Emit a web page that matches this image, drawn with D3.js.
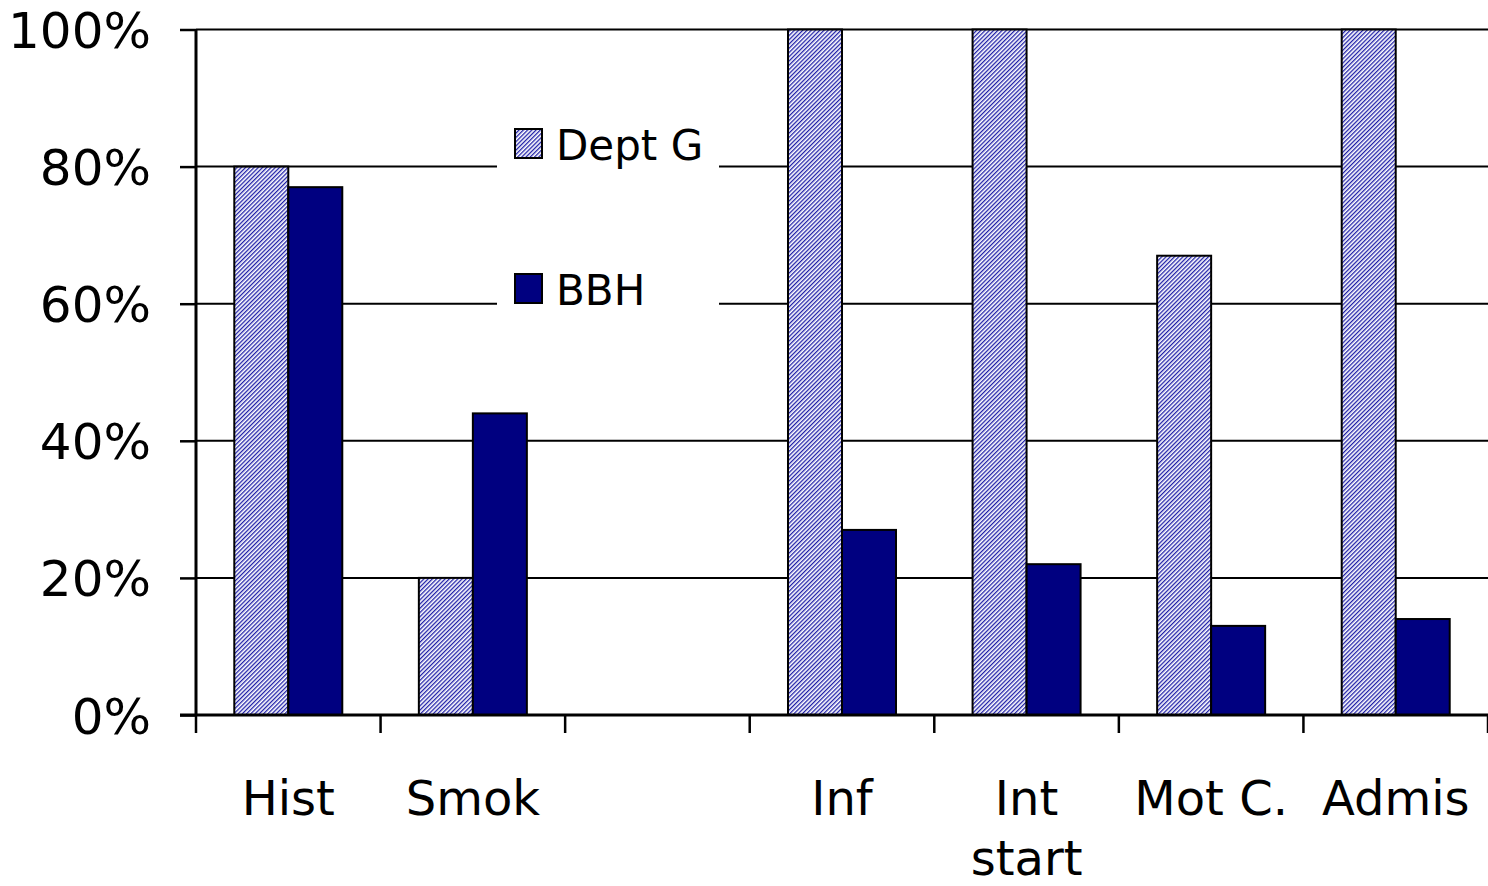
<!DOCTYPE html>
<html>
<head>
<meta charset="utf-8">
<script src="https://cdn.jsdelivr.net/npm/d3@7"></script>
<style>
  body { margin: 0; background: #fff; }
  svg { display: block; font-family: 'DejaVu Sans', Verdana, sans-serif; }
</style>
</head>
<body>
<div id="vis"></div>
<script>
// data
var categories = ['Hist', 'Smok', '', 'Inf', 'Int start', 'Mot C.', 'Admis'];
var deptG = [80, 20, null, 100, 100, 67, 100];
var bbh = [77, 44, null, 27, 22, 13, 14];
var seriesNames = ['Dept G', 'BBH'];
var yTicks = [0, 20, 40, 60, 80, 100];

var W = 1488, H = 886;
var margin = { left: 196, right: 0, top: 29.5, bottom: 171 };
var width = W - margin.left - margin.right;
var height = H - margin.top - margin.bottom;

var svg = d3.select('#vis').append('svg')
    .attr('width', W)
    .attr('height', H);

// hatch fill for Dept G
var defs = svg.append('defs');
var pat = defs.append('pattern')
    .attr('id', 'hatch')
    .attr('patternUnits', 'userSpaceOnUse')
    .attr('width', 3)
    .attr('height', 3)
    .attr('patternTransform', 'rotate(45)');
pat.append('rect').attr('width', 3).attr('height', 3).attr('fill', '#ffffff');
pat.append('rect').attr('width', 1.3).attr('height', 3).attr('fill', '#2020a8');

var g = svg.append('g')
    .attr('transform', 'translate(' + margin.left + ',' + margin.top + ')');

var xScale = d3.scaleBand()
    .domain(d3.range(categories.length))
    .range([0, width])
    .paddingInner(0)
    .paddingOuter(0);

var yScale = d3.scaleLinear()
    .domain([0, 100])
    .range([height, 0]);

// gridlines
g.selectAll('.grid').data(yTicks.filter(function (d) { return d > 0; }))
    .enter().append('line')
    .attr('class', 'grid')
    .attr('x1', 0).attr('x2', width)
    .attr('y1', function (d) { return yScale(d); })
    .attr('y2', function (d) { return yScale(d); })
    .attr('stroke', '#000')
    .attr('stroke-width', 2);

// legend box covers gridlines
var legend = svg.append('g');
legend.append('rect')
    .attr('x', 497).attr('y', 118)
    .attr('width', 222).attr('height', 200)
    .attr('fill', '#fff');

// bars
var bw = 54;
var inner = (xScale.bandwidth() - 2 * bw) / 2;
var rows = categories.map(function (c, i) {
    return { i: i, a: deptG[i], b: bbh[i] };
});

g.selectAll('.barA').data(rows.filter(function (d) { return d.a != null; }))
    .enter().append('rect')
    .attr('class', 'barA')
    .attr('x', function (d) { return xScale(d.i) + inner; })
    .attr('y', function (d) { return yScale(d.a); })
    .attr('width', bw)
    .attr('height', function (d) { return height - yScale(d.a); })
    .attr('fill', 'url(#hatch)')
    .attr('stroke', '#000')
    .attr('stroke-width', 2);

g.selectAll('.barB').data(rows.filter(function (d) { return d.b != null; }))
    .enter().append('rect')
    .attr('class', 'barB')
    .attr('x', function (d) { return xScale(d.i) + inner + bw; })
    .attr('y', function (d) { return yScale(d.b); })
    .attr('width', bw)
    .attr('height', function (d) { return height - yScale(d.b); })
    .attr('fill', '#000080')
    .attr('stroke', '#000')
    .attr('stroke-width', 2);

// y axis
var yAxis = d3.axisLeft(yScale)
    .tickValues(yTicks)
    .tickSize(16)
    .tickPadding(29)
    .tickFormat(function (d) { return d + '%'; });
var yg = g.append('g').call(yAxis);
yg.select('.domain').attr('stroke-width', 3).attr('d', 'M0,' + height + 'V0');
yg.selectAll('.tick line').attr('stroke-width', 2.5);
yg.selectAll('.tick text')
    .attr('font-size', 50)
    .attr('fill', '#000')
    .attr('font-family', "'DejaVu Sans', Verdana, sans-serif")
    .attr('dy', '0.36em');

// x axis (ticks at band edges)
var xg = g.append('g').attr('transform', 'translate(0,' + height + ')');
xg.append('line')
    .attr('x1', -16).attr('x2', width)
    .attr('stroke', '#000').attr('stroke-width', 3);
xg.selectAll('.xt').data(d3.range(categories.length + 1))
    .enter().append('line')
    .attr('class', 'xt')
    .attr('x1', function (i) { return i * xScale.bandwidth(); })
    .attr('x2', function (i) { return i * xScale.bandwidth(); })
    .attr('y1', 0).attr('y2', 18)
    .attr('stroke', '#000').attr('stroke-width', 2.5);

var labels = xg.selectAll('.xl').data(categories)
    .enter().append('text')
    .attr('class', 'xl')
    .attr('text-anchor', 'middle')
    .attr('font-size', 48)
    .attr('fill', '#000')
    .attr('transform', function (d, i) {
        return 'translate(' + (xScale(i) + xScale.bandwidth() / 2) + ',100)';
    });
labels.each(function (d) {
    var t = d3.select(this);
    var parts = d == 'Int start' ? ['Int', 'start'] : [d];
    parts.forEach(function (p, k) {
        t.append('tspan').attr('x', 0).attr('y', k * 60).text(p);
    });
});

// legend items
var items = legend.selectAll('.item').data(seriesNames)
    .enter().append('g')
    .attr('transform', function (d, i) { return 'translate(515,' + (129 + i * 145) + ')'; });
items.append('rect')
    .attr('width', 27).attr('height', 29)
    .attr('fill', function (d, i) { return i == 0 ? 'url(#hatch)' : '#000080'; })
    .attr('stroke', '#000')
    .attr('stroke-width', 2);
items.append('text')
    .attr('x', 41)
    .attr('y', 31)
    .attr('font-size', 42)
    .attr('fill', '#000')
    .text(function (d) { return d; });
</script>
</body>
</html>
